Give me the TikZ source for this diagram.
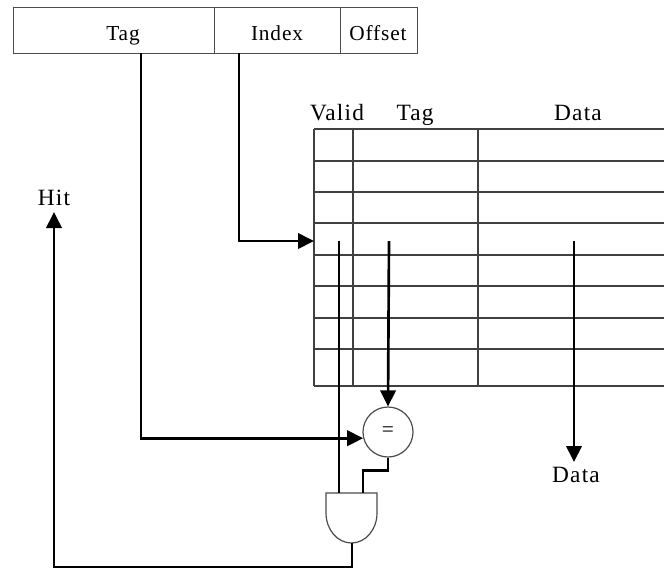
\documentclass[tikz,border=0pt]{standalone}
\usepackage{fontspec}
\setmainfont{Liberation Serif}
\usetikzlibrary{arrows.meta}
\begin{document}
\begin{tikzpicture}[x=0.75pt,y={(0pt,-0.75pt)},
  field/.style={draw=black!70, line width=0.9pt, minimum height=34.5pt, inner sep=0pt, anchor=north west},
  ftext/.style={font=\fontsize{16}{19}\selectfont\addfontfeature{LetterSpace=4}, anchor=base, inner sep=0pt},
  ltext/.style={font=\fontsize{17.5}{21}\selectfont\addfontfeature{LetterSpace=5}, anchor=base, inner sep=0pt},
  grid/.style={draw=black!75, line width=1pt},
  wire/.style={line width=2pt, line join=miter},
  arr/.style={wire, -{Triangle[length=12pt,width=11.5pt]}},
  gate/.style={draw=black!70, line width=0.9pt, fill=white}
]
\useasboundingbox (0,0) rectangle (664,569);
% address fields
\node[field, minimum width=150.75pt] (f1) at (13,7) {};
\node[field, minimum width=94.5pt] (f2) at (214,7) {};
\node[field, minimum width=57.75pt] (f3) at (340,7) {};
\node[ftext] (t1) at (123,40) {Tag};
\node[ftext] (t2) at (277,40) {Index};
\node[ftext] (t3) at (378,40) {Offset};
% table headers
\node[ltext] (hv) at (337,120) {Valid};
\node[ltext] (ht) at (415,120) {Tag};
\node[ltext] (hd) at (578,120) {Data};
% table grid
\foreach \y in {129,161,192,223,255,286,318,349,386}
  \draw[grid] (314,\y) -- (664,\y);
\foreach \x in {314,353,478}
  \draw[grid] (\x,129) -- (\x,386);
% coordinates
\coordinate (tagtap) at (141,53);
\coordinate (idxtap) at (239,53);
\coordinate (row) at (314,241);
\coordinate (vsrc) at (339,241);
\coordinate (tsrc) at (389,241);
\coordinate (dsrc) at (574,241);
\coordinate (dend) at (574,462);
\coordinate (andA) at (339,493);
\coordinate (andB) at (363,493);
\coordinate (andO) at (352,543);
\coordinate (hitend) at (54,212);
% comparator
\node[circle, draw=black!70, line width=0.9pt, minimum size=37.5pt, inner sep=0pt,
      font=\fontsize{16}{19}\selectfont] (eq) at (388,432) {=};
% AND gate
\draw[gate] (326,493) -- (377,493) -- (377,513)
  .. controls (377,529.6) and (365.6,543) .. (351.5,543)
  .. controls (337.4,543) and (326,529.6) .. (326,513) -- cycle;
% connectors
\draw[arr] (idxtap) |- (row);
\draw[arr] (tagtap) |- (eq.194);
\draw[wire] (vsrc) -- (andA);
\draw[arr] (tsrc) -- (eq.north);
\draw[wire] (eq.south) -- ++(0,13) -| (andB);
\draw[arr] (dsrc) -- (dend);
\draw[arr] (andO) -- (352,567) -| (hitend);
% labels
\node[ltext] (hit) at (54,205) {Hit};
\node[ltext] (dl) at (576,482) {Data};
\end{tikzpicture}
\end{document}
